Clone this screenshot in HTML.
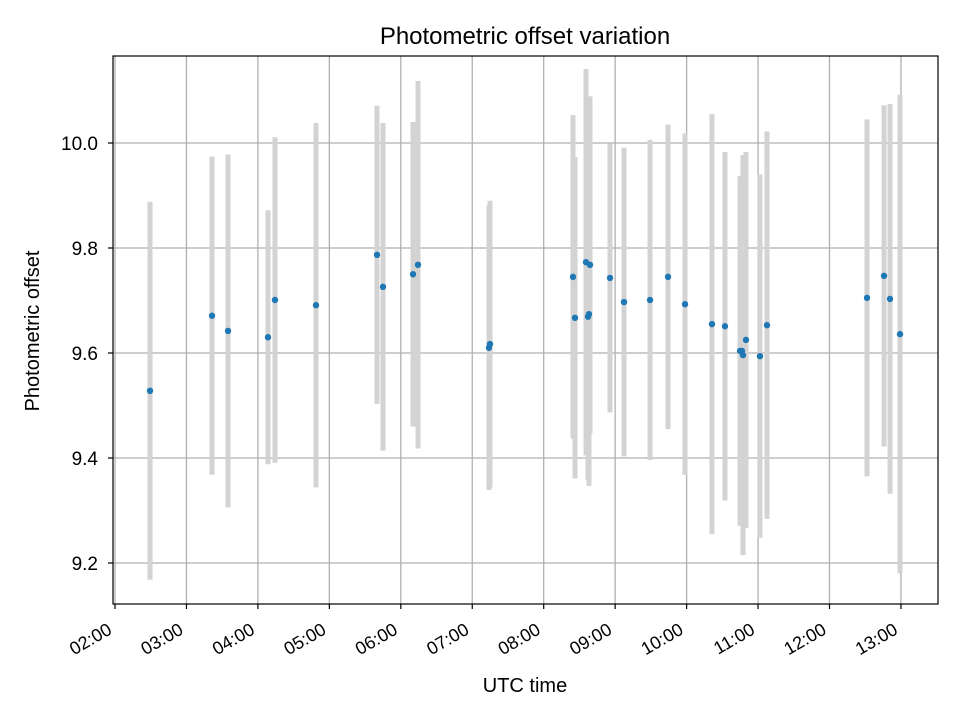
<!DOCTYPE html>
<html><head><meta charset="utf-8"><style>
body{margin:0;background:#fff}
svg{display:block;font-family:"Liberation Sans","DejaVu Sans",sans-serif}
</style></head><body>
<svg id="chart" width="960" height="720" viewBox="0 0 960 720"></svg>
<script>
const times=[2.490,3.358,3.582,4.141,4.239,4.813,5.667,5.751,6.171,6.241,7.234,7.248,8.410,8.438,8.592,8.634,8.648,8.620,8.928,9.124,9.488,9.740,9.978,10.355,10.537,10.775,10.748,10.789,10.831,11.027,11.125,12.525,12.763,12.847,12.987];
const offsets=[9.528,9.671,9.642,9.630,9.701,9.691,9.787,9.726,9.750,9.768,9.610,9.617,9.745,9.667,9.773,9.674,9.768,9.669,9.743,9.697,9.701,9.745,9.693,9.655,9.651,9.604,9.604,9.596,9.625,9.594,9.653,9.705,9.747,9.703,9.636];
const errors=[0.36,0.303,0.336,0.242,0.31,0.347,0.284,0.312,0.29,0.35,0.271,0.273,0.308,0.306,0.368,0.327,0.321,0.311,0.256,0.294,0.305,0.29,0.325,0.4,0.332,0.287,0.333,0.381,0.358,0.346,0.369,0.34,0.325,0.371,0.456];
const xTickLabels=["02:00","03:00","04:00","05:00","06:00","07:00","08:00","09:00","10:00","11:00","12:00","13:00"];
const xTickHours=[2,3,4,5,6,7,8,9,10,11,12,13];
const yTicks=[9.2,9.4,9.6,9.8,10.0];

const L=113,R=938,T=56,B=604;
const X=h=>115+(h-2)*71.45;
const Y=v=>143+(10-v)*525;
const svg=document.getElementById('chart');
const NS='http://www.w3.org/2000/svg';
function mk(tag,attrs,parent){const e=document.createElementNS(NS,tag);for(const k in attrs)e.setAttribute(k,attrs[k]);(parent||svg).appendChild(e);return e;}

const grid=mk('g',{});


xTickHours.forEach((h,i)=>{
  const x=X(h);
  const gl=mk('line',{x1:x,x2:x,y1:T,y2:B,stroke:'#b0b0b0','stroke-width':1.3},grid);
  
  
  mk('line',{x1:x,x2:x,y1:B,y2:B+5,stroke:'#000','stroke-width':1.2});
  const ax=x-2, ay=B+29;
  const t=mk('text',{x:ax,y:ay,'font-size':18,'text-anchor':'end',transform:`rotate(-30 ${ax} ${ay})`});
  t.textContent=xTickLabels[i];
  
  
});
yTicks.forEach(v=>{
  const y=Y(v);
  const gl=mk('line',{x1:L,x2:R,y1:y,y2:y,stroke:'#b0b0b0','stroke-width':1.3},grid);
  
  
  mk('line',{x1:L-5,x2:L,y1:y,y2:y,stroke:'#000','stroke-width':1.2});
  const t=mk('text',{x:L-15,y:y+7,'font-size':19,'text-anchor':'end'});
  t.textContent=v.toFixed(1);
  
  
});
const eg=mk('g',{});


times.forEach((h,i)=>{
  const e=mk('line',{x1:X(h),x2:X(h),y1:Y(offsets[i]+errors[i]),y2:Y(offsets[i]-errors[i]),stroke:'#d3d3d3','stroke-width':5},eg);
  
  
});
const pg=mk('g',{});


times.forEach((h,i)=>{
  const c=mk('circle',{cx:X(h),cy:Y(offsets[i]),r:3.2,fill:'#1f77b4'},pg);
  
  
});
const fr=mk('rect',{x:L,y:T,width:R-L,height:B-T,fill:'none',stroke:'#000','stroke-width':1.2});


const title=mk('text',{x:525,y:44,'font-size':24,'text-anchor':'middle'});
title.textContent='Photometric offset variation';


const xt=mk('text',{x:525,y:692,'font-size':20,'text-anchor':'middle'});
xt.textContent='UTC time';


const yt=mk('text',{x:39,y:331,'font-size':20,'text-anchor':'middle',transform:'rotate(-90 39 331)'});
yt.textContent='Photometric offset';


</script>
</body></html>
